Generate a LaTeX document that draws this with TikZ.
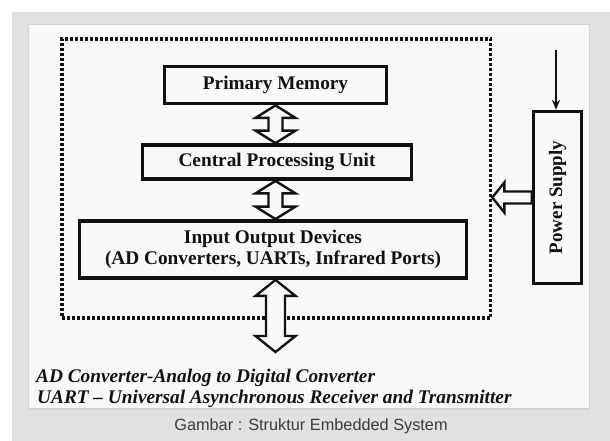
\documentclass[tikz,border=0pt]{standalone}
\usepackage{fontspec}
\setmainfont{Liberation Serif}
\newfontfamily\capfont{Liberation Sans}
\usetikzlibrary{arrows.meta,calc}
\definecolor{bggray}{HTML}{E1E1E1}
\definecolor{panel}{HTML}{F8FAF8}
\definecolor{panelline}{HTML}{D2D4D2}
\definecolor{ink}{HTML}{111111}
\definecolor{capink}{HTML}{3C3C3C}
\tikzset{
 blockbox/.style={draw=ink, line width=3.8pt, fill=panel, inner sep=0pt,
   font=\fontsize{19.3}{21}\selectfont\bfseries, text=ink, align=center},
 framebox/.style={draw=ink, line width=3.6pt, dash pattern=on 3pt off 2pt, inner sep=0pt},
 hollow/.style={draw=ink, line width=2.4pt, fill=panel, line join=miter},
 notetext/.style={font=\fontsize{19.3}{21}\selectfont\bfseries\itshape, text=ink,
   inner sep=0pt, anchor=base west},
}
% vertical hollow double arrow: #1 top, #2 bottom, #3 half shaft, #4 half head, #5 head length
\newcommand\vdbl[5]{%
 \draw[hollow] let \p1=#1, \p2=#2 in
 (\x1,\y1) -- (\x1+#4,\y1-#5) -- (\x1+#3,\y1-#5) -- (\x1+#3,\y2+#5) -- (\x1+#4,\y2+#5)
 -- (\x1,\y2) -- (\x1-#4,\y2+#5) -- (\x1-#3,\y2+#5) -- (\x1-#3,\y1-#5) -- (\x1-#4,\y1-#5) -- cycle;}
% horizontal hollow single arrow pointing left: #1 tail, #2 tip
\newcommand\hsingle[5]{%
 \draw[hollow] let \p1=#1, \p2=#2 in
 (\x2,\y2) -- (\x2+#5,\y2+#4) -- (\x2+#5,\y2+#3) -- (\x1,\y2+#3) -- (\x1,\y2-#3)
 -- (\x2+#5,\y2-#3) -- (\x2+#5,\y2-#4) -- cycle;}
\begin{document}
\begin{tikzpicture}[x=1pt,y=-1pt]
\useasboundingbox (0,0) rectangle (610,441);
\fill[white] (0,0) rectangle (610,441);
\fill[bggray] (12,12) rectangle (610,441);
\filldraw[fill=panel, draw=panelline, line width=1.5pt] (28.5,24.5) rectangle (589.5,409);

\node[framebox, minimum width=428.5pt, minimum height=279pt] (frame) at (276.25,178.5) {};
\node[blockbox, minimum width=222pt, minimum height=37pt] (pm) at (275.5,85) {Primary Memory};
\node[blockbox, minimum width=269pt, minimum height=34pt] (cpu) at (277,162) {Central Processing Unit};
\node[blockbox, minimum width=387pt, minimum height=57pt] (io) at (273,249.5)
  {Input Output Devices\\(AD Converters, UARTs, Infrared Ports)};
\node[blockbox, line width=3.4pt, minimum width=48pt, minimum height=172pt] (power) at (557.5,197.5) {};
\node[rotate=90, inner sep=0pt, font=\fontsize{19}{21}\selectfont\bfseries, text=ink] (powerlabel) at (power.center) {Power Supply};

\vdbl{(pm.south)}{(pm.south |- cpu.north)}{7pt}{20pt}{12.5pt}
\vdbl{(pm.south |- cpu.south)}{(pm.south |- io.north)}{7pt}{20pt}{12.5pt}
\coordinate (busend) at (275.5,352);
\vdbl{(busend |- io.south)}{(busend)}{9.5pt}{20pt}{16pt}
\hsingle{(power.west)}{(frame.east |- power.west)}{6pt}{15pt}{12pt}

\coordinate (supplyin) at (556,50);
\draw[-{Stealth[length=10pt,width=8pt]}, line width=1.8pt, draw=ink] (supplyin) -- (supplyin |- power.north);

\node[notetext] (note1) at (36,382) {AD Converter-Analog to Digital Converter};
\node[notetext] (note2) at (37,403) {UART – Universal Asynchronous Receiver and Transmitter};
\node[font=\capfont\fontsize{16.3}{18}\selectfont, text=capink, anchor=base, inner sep=0pt] (caption) at (311,430) {Gambar : Struktur Embedded System};
\end{tikzpicture}
\end{document}
